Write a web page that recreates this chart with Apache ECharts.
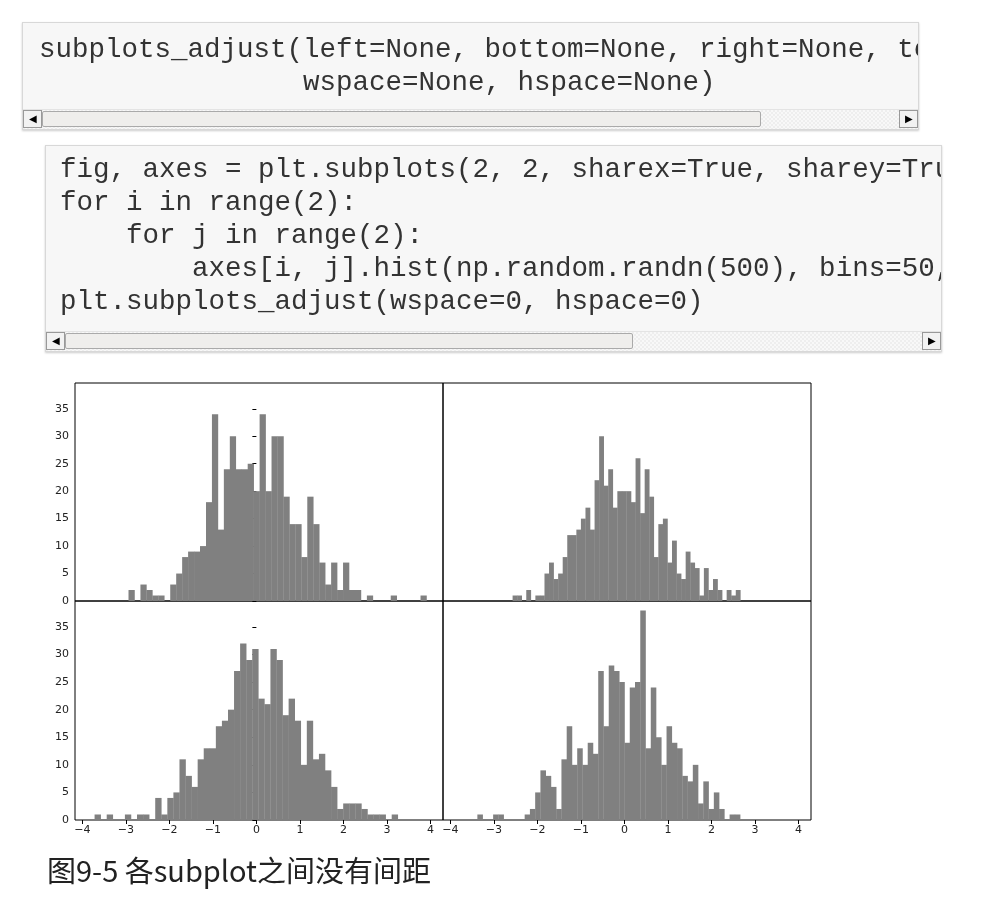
<!DOCTYPE html>
<html>
<head>
<meta charset="UTF-8">
<title>subplots_adjust</title>
<style>
body{margin:0;background:#fff;width:1006px;height:898px;position:relative;overflow:hidden;}
.code{position:absolute;background:#f7f7f7;border:1px solid #d8d8d8;box-shadow:0 1px 2px #ccc;overflow:hidden;}
.code pre{margin:0;font-family:"Liberation Mono","DejaVu Sans Mono",monospace;font-size:27.5px;line-height:33px;color:#333;white-space:pre;}
.bar{position:absolute;left:0;right:0;bottom:0;height:19px;background:repeating-conic-gradient(#eee 0 25%,#f8f8f8 0 50%) 0 0/4px 4px;border-top:1px solid #e4e4e4;}
.btn{position:absolute;top:0;width:19px;height:18px;background:#f2f2f2;border:1px solid #999;box-sizing:border-box;font-size:10px;line-height:16px;text-align:center;color:#000;}
.thumb{position:absolute;top:1px;height:16px;background:#efeeec;border:1px solid #aaa;border-radius:2px;box-sizing:border-box;}
#caption{position:absolute;left:47px;top:848px;font-family:"Noto Sans CJK SC",sans-serif;font-size:29px;color:#222;}
#chart{position:absolute;left:0;top:0;width:1006px;height:898px;}
</style>
</head>
<body>
<div id="chart"></div>
<div class="code" style="left:22px;top:22px;width:895px;height:106px;">
<pre style="padding:10px 0 0 16px;">subplots_adjust(left=None, bottom=None, right=None, top=None,
                wspace=None, hspace=None)</pre>
<div class="bar"><div class="btn" style="left:0;">&#9664;</div><div class="thumb" style="left:19px;width:719px;"></div><div class="btn" style="right:0;">&#9654;</div></div>
</div>
<div class="code" style="left:45px;top:145px;width:895px;height:205px;">
<pre style="padding:7px 0 0 14px;">fig, axes = plt.subplots(2, 2, sharex=True, sharey=True)
for i in range(2):
    for j in range(2):
        axes[i, j].hist(np.random.randn(500), bins=50, color='k', alpha=0.5)
plt.subplots_adjust(wspace=0, hspace=0)</pre>
<div class="bar"><div class="btn" style="left:0;">&#9664;</div><div class="thumb" style="left:19px;width:568px;"></div><div class="btn" style="right:0;">&#9654;</div></div>
</div>
<div id="caption">图9-5 各subplot之间没有间距</div>
<script src="https://cdn.jsdelivr.net/npm/echarts@6/dist/echarts.min.js"></script>
<script>
// bin start, bin width and 50 counts per subplot
var start00 = -2.94, width00 = 0.137;
var counts00 = [2,0,3,2,1,1,0,3,5,8,9,9,10,18,34,13,24,30,24,24,25,20,34,20,30,30,19,14,14,8,19,14,7,3,7,2,7,2,2,0,1,0,0,0,1,0,0,0,0,1];
var start01 = -2.57, width01 = 0.1047;
var counts01 = [1,1,0,2,0,1,1,5,7,4,5,8,12,12,13,15,17,13,22,30,21,24,17,20,20,20,18,26,16,24,19,8,14,15,7,11,5,4,9,7,6,1,6,2,4,2,0,2,1,2];
var start10 = -3.72, width10 = 0.1394;
var counts10 = [1,0,1,0,0,1,0,1,1,0,4,1,4,5,11,8,6,11,13,13,17,18,20,27,32,29,31,22,21,31,29,19,22,18,10,18,11,12,9,6,2,3,3,3,2,1,1,1,0,1];
var start11 = -3.38, width11 = 0.1208;
var counts11 = [1,0,0,1,1,0,0,0,0,1,2,5,9,8,6,2,11,17,10,13,10,14,12,27,17,28,27,25,14,24,25,38,13,24,15,10,17,14,13,8,7,10,3,7,2,5,2,0,1,1];
var xTicks = [-4,-3,-2,-1,0,1,2,3,4];
var yTicks = [0,5,10,15,20,25,30,35];

function bins(start, w, counts){
    var out = [];
    for (var i = 0; i < counts.length; i++) {
        out.push([start + i*w, start + (i+1)*w, counts[i]]);
    }
    return out;
}
function renderBar(params, api){
    var p0 = api.coord([api.value(0), api.value(2)]);
    var p1 = api.coord([api.value(1), 0]);
    return {type:'rect', shape:{x:p0[0], y:p0[1], width:p1[0]-p0[0]+0.3, height:p1[1]-p0[1]},
        style:{fill:'#808080'}};
}
var fmt = function(v){ return String(v).replace('-', '\u2212'); };
var lbl = {fontFamily:'DejaVu Sans', fontSize:11, color:'#222'};
var grids = [
    {left:75, top:383, width:368, height:218},
    {left:443, top:383, width:368, height:218},
    {left:75, top:601, width:368, height:219},
    {left:443, top:601, width:368, height:219}
];
var xAxes = [], yAxes = [], series = [];
var all = [bins(start00,width00,counts00), bins(start01,width01,counts01), bins(start10,width10,counts10), bins(start11,width11,counts11)];
for (var g = 0; g < 4; g++) {
    grids[g].show = true; grids[g].borderColor = '#000'; grids[g].borderWidth = 1;
    xAxes.push({type:'value', gridIndex:g, min:-4.17, max:4.29, splitLine:{show:false},
        axisLine:{show:false},
        axisTick:{show:g>=2, length:4, lineStyle:{color:'#000'}, customValues:xTicks},
        axisLabel:Object.assign({show:g>=2, margin:5, formatter:fmt, customValues:xTicks}, lbl)});
    yAxes.push({type:'value', gridIndex:g, min:0, max:39.7, splitLine:{show:false},
        axisLine:{show:false},
        axisTick:{show:g%2===0, length:4, lineStyle:{color:'#000'}, customValues:yTicks},
        axisLabel:Object.assign({show:g%2===0, margin:6, customValues:yTicks}, lbl)});
    series.push({type:'custom', xAxisIndex:g, yAxisIndex:g, renderItem:renderBar,
        encode:{x:[0,1], y:2}, data:all[g], silent:true});
}
var chart = echarts.init(document.getElementById('chart'));
chart.setOption({animation:false, grid:grids, xAxis:xAxes, yAxis:yAxes, series:series});
</script>
</body>
</html>
